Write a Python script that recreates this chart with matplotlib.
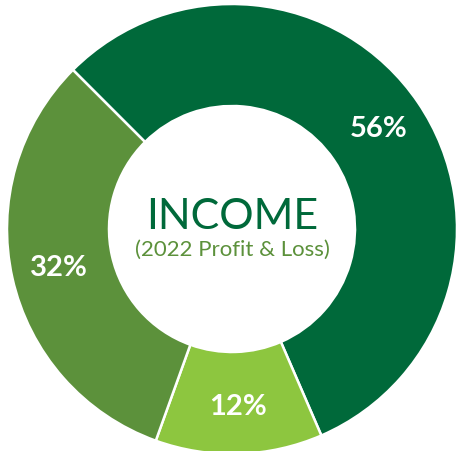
import matplotlib
matplotlib.use("Agg")
import matplotlib.pyplot as plt

# income split, 2022
labels = ["Dark", "Light", "Medium"]
shares = [56, 12, 32]
colors = ["#00693A", "#8DC63F", "#5C913B"]

title = "INCOME"
subtitle = "(2022 Profit & Loss)"

fig = plt.figure(figsize=(4.58, 4.51), dpi=100)
ax = fig.add_axes([0, 0, 1, 1])
ax.set_aspect("equal")
ax.axis("off")

wedges, texts, autotexts = ax.pie(
    shares,
    colors=colors,
    startangle=135,
    counterclock=False,
    center=(232, 222),
    radius=225,
    autopct=lambda p: f"{p:.0f}%",
    pctdistance=0.79,
    wedgeprops=dict(width=102, edgecolor="white", linewidth=1.8),
    textprops=dict(color="white", fontsize=21, fontweight="bold", family="Lato"),
)
ax.set_xlim(0, 458)
ax.set_ylim(0, 451)

ax.text(232, 234, title, ha="center", va="center", fontsize=31,
        color="#00693A", family="Lato")
ax.text(232, 201, subtitle, ha="center", va="center", fontsize=16,
        color="#5C913B", family="Lato")

fig.savefig("out.png", dpi=100)
